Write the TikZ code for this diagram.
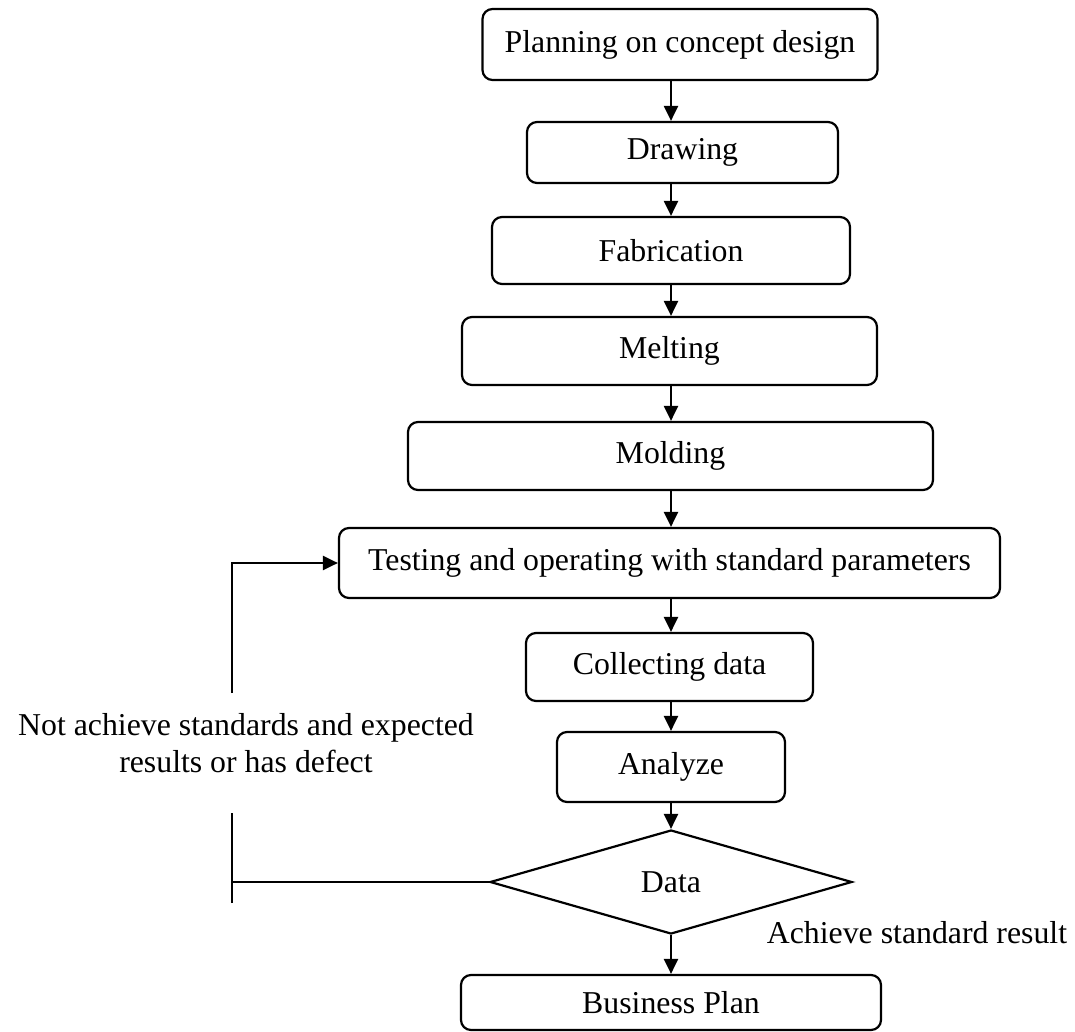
\documentclass[tikz,border=0pt]{standalone}
\usepackage{fontspec}
\setmainfont{Liberation Serif}
\usepackage{tikz}
\usetikzlibrary{arrows.meta}
\usetikzlibrary{positioning,shapes.geometric}
\tikzset{
    procbox/.style={
           rectangle,
           rounded corners=5pt,
           draw=black, line width=1.1pt,
           inner sep=2pt,
           text centered,
           },
    decision/.style={
           diamond,
           draw=black, line width=1.1pt,
           aspect=3.5,
           inner sep=0pt,
           },
}

\begin{document}
\begin{tikzpicture}[->,>={Triangle[length=7.5pt,width=7pt]},line width=1.1pt,
  font=\fontsize{15.9}{18.5}\selectfont]

 \useasboundingbox (0,0) rectangle (537.5pt,-516pt);

 % top of the flow
 \node[procbox, minimum width=197.5pt, minimum height=35.5pt]
  (Planning) at (340pt,-22.25pt)
  {Planning on concept design};

 \node[procbox,
  minimum width=155.5pt, minimum height=30.5pt,
  below of=Planning,
  node distance=54pt,
  xshift=1.25pt,
  anchor=center] (Drawing)
  {Drawing};

 \node[procbox,
  minimum width=179pt, minimum height=33.5pt,
  below of=Drawing,
  node distance=49pt,
  xshift=-5.75pt,
  anchor=center] (Fabrication)
  {Fabrication};

 \node[procbox,
  minimum width=207.5pt, minimum height=34pt,
  below of=Fabrication,
  node distance=50.25pt,
  xshift=-0.75pt,
  anchor=center] (Melting)
  {Melting};

 \node[procbox,
  minimum width=262.5pt, minimum height=34pt,
  below of=Melting,
  node distance=52.5pt,
  xshift=0.5pt,
  anchor=center] (Molding)
  {Molding};

 % box the loop goes back to
 \node[procbox,
  minimum width=330.5pt, minimum height=35pt,
  below of=Molding,
  node distance=53.5pt,
  xshift=-0.5pt,
  anchor=center] (Testing)
  {Testing and operating with standard parameters};

 \node[procbox,
  minimum width=143.5pt, minimum height=34pt,
  below of=Testing,
  node distance=52pt,
  anchor=center] (Collecting)
  {Collecting data};

 \node[procbox,
  minimum width=114pt, minimum height=35pt,
  below of=Collecting,
  node distance=50pt,
  xshift=0.75pt,
  anchor=center] (Analyze)
  {Analyze};

 % decision
 \node[decision,
  minimum width=181pt, minimum height=52pt,
  below of=Analyze,
  node distance=57.5pt,
  anchor=center] (Data)
  {Data};

 \node[procbox,
  minimum width=210pt, minimum height=27.5pt,
  below of=Data,
  node distance=60.25pt,
  anchor=center] (Business Plan)
  {Business Plan};

 % texts beside the decision
 \node[align=center] (Not Achieve) at (123pt,-371.75pt)
  {Not achieve standards and expected\\results or has defect};
 \node (Achieve) at (458.5pt,-466.5pt) {Achieve standard result};

 % the main flow
 \draw (Planning.south -| Data) -- (Drawing.north -| Data);
 \draw (Drawing.south -| Data) -- (Fabrication.north -| Data);
 \draw (Fabrication.south -| Data) -- (Melting.north -| Data);
 \draw (Melting.south -| Data) -- (Molding.north -| Data);
 \draw (Molding.south -| Data) -- (Testing.north -| Data);
 \draw (Testing.south -| Data) -- (Collecting.north -| Data);
 \draw (Collecting.south -| Data) -- (Analyze.north -| Data);
 \draw (Analyze.south -| Data) -- (Data.north);
 \draw (Data.south) -- (Business Plan.north);

 % loop back, broken round the text
 \coordinate (Loop Bottom) at (116pt,-451.5pt);
 \coordinate (Loop Gap) at (116pt,-406.5pt);
 \coordinate (Loop Top) at (116pt,-346.5pt);
 \draw[-] (Data.west) -- (Data.west -| Loop Bottom);
 \draw[-] (Loop Bottom) -- (Loop Gap);
 \draw (Loop Top) |- (Testing.west);

\end{tikzpicture}
\end{document}
